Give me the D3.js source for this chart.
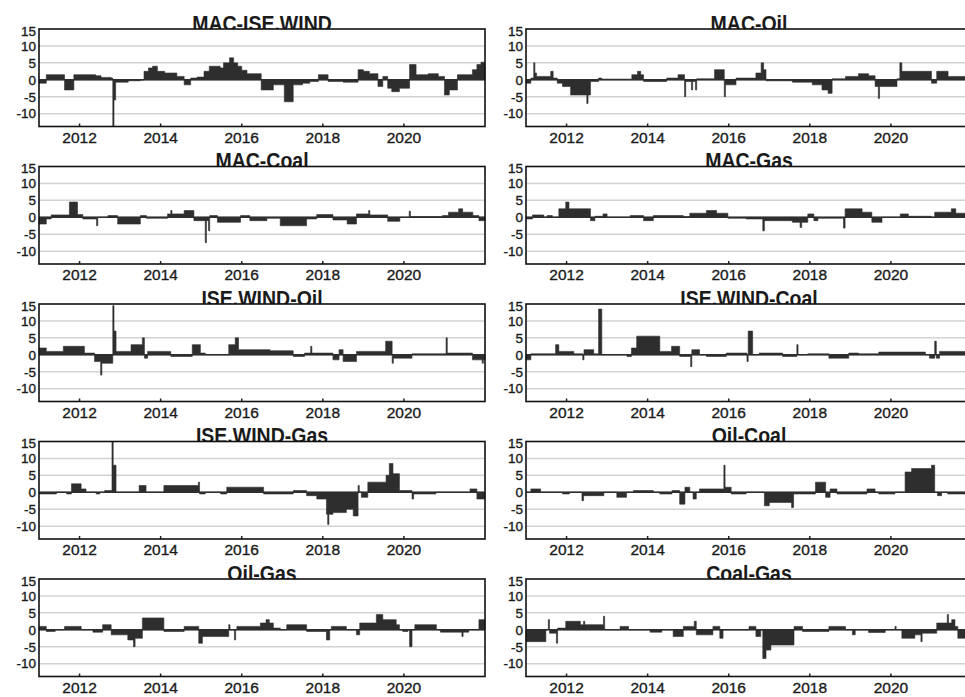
<!DOCTYPE html>
<html>
  <head>
    <meta charset="UTF-8">
    <title>Pairwise spillover</title>
    <style>
      body { margin: 0; background: #fff; }
      text { font-family: "Liberation Sans", Arial, sans-serif; fill: #1a1a1a; }
      text.ylab, text.xlab { stroke: #1a1a1a; stroke-width: 0.35px; }
    </style>
  </head>
  <body>

    <svg class="chart"></svg>

    <script src="https://cdnjs.cloudflare.com/ajax/libs/d3/7.8.5/d3.min.js"></script>
    <script>

/* DATA: [decimal year, value], each value holds until the next entry (step) */

var titles = ["MAC-ISE.WIND", "MAC-Oil", "MAC-Coal", "MAC-Gas", "ISE.WIND-Oil",
              "ISE.WIND-Coal", "ISE.WIND-Gas", "Oil-Coal", "Oil-Gas", "Coal-Gas"];

var yTicks = [15, 10, 5, 0, -5, -10];
var xTicks = [2012, 2014, 2016, 2018, 2020];

var macIseWind = [[2011.0,-1],[2011.18,1.5],[2011.63,-3],[2011.86,1.5],[2012.4,1.2],[2012.53,0.7],[2012.78,0.5],
  [2012.82,-14],[2012.85,-6],[2012.89,-0.7],[2013.2,-0.3],[2013.5,-0.1],[2013.59,2.5],[2013.7,3.5],[2013.8,4],
  [2013.92,2.5],[2014.1,2],[2014.4,1],[2014.58,-1.5],[2014.74,0.5],[2014.9,0.8],[2015.07,2.5],[2015.2,4],
  [2015.47,3.5],[2015.55,5],[2015.7,6.5],[2015.8,5],[2015.9,4],[2016.0,2.8],[2016.13,1.8],[2016.48,-3],
  [2016.78,-1.5],[2017.05,-6.5],[2017.27,-1.5],[2017.5,-1],[2017.68,-0.5],[2017.89,1.5],[2018.13,-0.5],
  [2018.5,-0.7],[2018.87,3],[2019.0,2.5],[2019.15,1.8],[2019.36,-2],[2019.48,1],[2019.6,-2.5],[2019.7,-3.5],
  [2019.89,-2.5],[2020.14,4.5],[2020.3,1.5],[2020.6,1.8],[2020.85,1],[2021.0,-4.5],[2021.12,-3],[2021.32,1.5],
  [2021.69,3],[2021.8,4.5],[2021.9,5.2]];

var macOil = [[2011.0,-1],[2011.12,0.5],[2011.19,5],[2011.22,2],[2011.26,1],[2011.61,2.5],[2011.67,0.5],
  [2011.77,-1],[2011.9,-2],[2012.1,-4.5],[2012.5,-7],[2012.53,-4.5],[2012.59,-0.5],[2012.79,0.5],[2012.87,0.2],
  [2013.61,1.5],[2013.75,2.5],[2013.83,1.5],[2013.9,-0.5],[2014.47,0.5],[2014.75,1.5],[2014.91,-5],[2014.94,-0.5],
  [2015.08,-3],[2015.11,-0.5],[2015.18,-3],[2015.21,0.3],[2015.65,3],[2015.89,-5],[2015.92,-1.5],[2016.18,0.5],
  [2016.67,2],[2016.8,5],[2016.86,3],[2016.92,-0.3],[2017.57,-0.7],[2018.06,-1.5],[2018.3,-3],[2018.45,-4],
  [2018.55,0.3],[2018.88,1],[2019.2,1.8],[2019.45,1.2],[2019.61,-2],[2019.69,-5.5],[2019.72,-2],[2020.15,0.3],
  [2020.22,5],[2020.27,2.5],[2021.0,-1],[2021.13,2.5],[2021.41,1]];

var macCoal = [[2011.0,-2],[2011.18,-0.5],[2011.3,0.7],[2011.75,4.5],[2011.95,0.8],[2012.08,-0.5],[2012.42,-2.5],
  [2012.45,0],[2012.7,0.5],[2012.94,-2],[2013.5,0.5],[2013.65,-0.3],[2014.17,1],[2014.25,2],[2014.28,1],
  [2014.58,2],[2014.82,-1],[2015.1,-7.5],[2015.13,-1],[2015.18,-4],[2015.21,0.5],[2015.4,-1.5],[2015.97,0.5],
  [2016.2,-1],[2016.62,-0.3],[2016.95,-2.5],[2017.6,-0.5],[2017.85,0.8],[2018.25,-0.8],[2018.6,-2],[2018.83,1],
  [2019.13,2],[2019.16,0.7],[2019.6,-1.2],[2019.9,0],[2020.13,1.8],[2020.16,0.2],[2020.95,0.5],[2021.1,1.5],
  [2021.35,2.5],[2021.45,1.5],[2021.7,0.5],[2021.85,-1]];

var macGas = [[2011.0,-0.5],[2011.16,0.7],[2011.44,0],[2011.52,0.5],[2011.65,0],[2011.81,2.5],[2011.98,4.5],
  [2012.06,2.5],[2012.59,-1],[2012.7,0.3],[2012.9,1],[2013.0,0],[2013.57,0.5],[2013.9,-1],[2014.14,0.5],
  [2014.88,0.2],[2015.04,1.2],[2015.45,2],[2015.7,1.2],[2015.98,-0.3],[2016.43,-0.5],[2016.84,-4],[2016.88,-1],
  [2017.57,-1.5],[2017.76,-3],[2017.8,-1.5],[2017.95,1],[2018.1,-1],[2018.2,-0.3],[2018.83,-3.2],[2018.87,2.5],
  [2019.29,1.5],[2019.53,-1.5],[2019.78,0],[2020.23,1],[2020.43,0.3],[2021.0,0],[2021.08,1.5],[2021.49,2.5],
  [2021.6,1.2]];

var iseOil = [[2011.0,2],[2011.18,1],[2011.6,2.5],[2012.12,0.5],[2012.37,-2],[2012.52,-6],[2012.55,-2.5],
  [2012.82,14.5],[2012.85,7],[2012.9,1],[2013.27,3],[2013.55,5],[2013.6,-1],[2013.68,1],[2014.25,-0.5],
  [2014.78,3],[2014.98,0.5],[2015.1,0],[2015.68,3],[2015.84,5],[2015.92,1.5],[2016.7,1.2],[2017.27,-0.5],
  [2017.55,0.5],[2017.7,2.5],[2017.73,0.5],[2018.25,-1.5],[2018.4,1.5],[2018.5,-2],[2018.83,1],[2019.55,4],
  [2019.71,-2.5],[2019.74,-1],[2020.2,0.3],[2021.04,5],[2021.07,0.5],[2021.69,-1.5],[2021.93,-2.5],[2021.96,-1.5]];

var iseCoal = [[2011.0,-1.5],[2011.12,0.3],[2011.73,3],[2011.81,1],[2012.18,0.3],[2012.4,-1.5],[2012.43,1.5],
  [2012.67,0.3],[2012.79,13.5],[2012.87,0],[2013.49,-0.5],[2013.6,2],[2013.73,5.5],[2014.3,1],[2014.59,2.5],
  [2014.79,-0.5],[2015.06,-3.5],[2015.09,1.5],[2015.28,0],[2015.45,-0.5],[2015.94,0.5],[2016.45,-2],[2016.48,7],
  [2016.59,0],[2016.75,0.5],[2017.33,-0.5],[2017.68,3],[2017.71,0],[2017.95,0.3],[2018.47,-1],[2018.96,0.5],
  [2019.2,0.3],[2019.7,0.8],[2020.2,0.8],[2020.85,0],[2020.95,-1],[2021.08,4],[2021.12,-1],[2021.2,1]];

var iseGas = [[2011.0,-0.5],[2011.43,0],[2011.68,-0.5],[2011.8,2.5],[2012.04,1],[2012.16,0],[2012.41,-0.5],
  [2012.5,0],[2012.62,0.5],[2012.8,15],[2012.83,8],[2012.9,0],[2013.47,2],[2013.64,0],[2014.08,2],[2014.93,3],
  [2014.96,-0.5],[2015.1,0],[2015.48,-0.5],[2015.63,1.5],[2016.54,-0.5],[2017.27,0.5],[2017.6,-1],[2017.85,-2],
  [2018.09,-6.5],[2018.12,-9.5],[2018.15,-6.5],[2018.25,-6],[2018.58,-5],[2018.75,-7],[2018.87,2],[2018.9,0],
  [2018.95,-1.5],[2019.11,3],[2019.56,5],[2019.64,8.5],[2019.73,5.5],[2019.89,0.5],[2020.2,-2],[2020.24,-0.5],
  [2020.79,0],[2021.63,1],[2021.8,-2]];

var oilCoal = [[2011.0,0],[2011.12,1],[2011.36,0],[2011.9,-0.5],[2012.07,0],[2012.38,-2.5],[2012.42,-1],
  [2012.92,0],[2013.24,-1.5],[2013.48,0],[2013.65,0.5],[2014.14,0],[2014.3,-0.5],[2014.6,0.5],[2014.79,-3.5],
  [2014.92,1.5],[2015.04,0],[2015.12,-2],[2015.2,0],[2015.28,1],[2015.88,8],[2015.91,1.5],[2016.06,-0.5],
  [2016.43,0],[2016.88,-4],[2017.0,-3],[2017.55,-4.5],[2017.6,-0.5],[2018.14,3],[2018.39,-1.5],[2018.5,1],
  [2018.67,-0.5],[2019.41,1],[2019.61,0],[2019.7,-0.5],[2020.1,0],[2020.35,6],[2020.51,7],[2021.0,8],
  [2021.08,0],[2021.15,-1],[2021.25,0],[2021.4,-0.5]];

var oilGas = [[2011.0,1],[2011.18,-0.5],[2011.4,0],[2011.63,1],[2012.04,0],[2012.33,-0.7],[2012.57,1.5],
  [2012.78,-1.5],[2013.19,-3],[2013.33,-5],[2013.37,-2.5],[2013.55,3.5],[2014.08,-0.5],[2014.58,1],[2014.94,-4],
  [2015.03,-2],[2015.68,1.5],[2015.71,0],[2015.82,-3],[2015.85,0],[2015.88,1],[2016.46,2],[2016.6,3],
  [2016.68,2],[2016.78,0.5],[2016.95,0],[2017.11,1.5],[2017.6,-0.5],[2018.09,-3],[2018.17,0],[2018.21,1],
  [2018.58,0],[2018.83,-1.5],[2018.91,2],[2019.32,4.5],[2019.48,3],[2019.81,1.5],[2019.89,0],[2019.97,-0.5],
  [2020.1,0],[2020.14,-5],[2020.2,0],[2020.27,1.5],[2020.8,0],[2020.9,-0.7],[2021.43,-2],[2021.46,-0.7],
  [2021.6,0],[2021.85,3]];

var coalGas = [[2011.0,-3.5],[2011.49,0],[2011.55,3],[2011.58,-1],[2011.75,-4],[2011.78,0.5],[2011.98,2.5],
  [2012.34,1.5],[2012.42,2.5],[2012.45,1.5],[2012.91,4],[2012.94,0],[2013.32,1],[2013.53,0],[2014.06,-0.7],
  [2014.35,0],[2014.63,-2],[2014.88,1],[2015.15,2.5],[2015.2,-1.5],[2015.61,1],[2015.78,-2.5],[2015.86,0],
  [2016.5,1],[2016.67,-2],[2016.79,0],[2016.84,-8.5],[2016.92,-6],[2017.04,-4.5],[2017.61,1],[2017.82,-0.5],
  [2018.47,1],[2018.88,0],[2019.05,-1.5],[2019.12,0],[2019.45,-0.8],[2019.86,0],[2020.1,1],[2020.13,0],
  [2020.27,-2.5],[2020.59,-1.5],[2020.74,-3.5],[2020.77,-1],[2021.13,2],[2021.39,4.5],[2021.42,2],[2021.5,3],
  [2021.58,1],[2021.65,-2.5]];

var seriesList = [macIseWind, macOil, macCoal, macGas, iseOil, iseCoal, iseGas, oilCoal, oilGas, coalGas];

/* LAYOUT */
var width = 965, height = 697;
var cols = [[39, 485], [526, 972]];
var rowTop = 29, rowStep = 137.5, panelH = 97.5;
var xDomain = [2011.0, 2022.0], yDomain = [-13.8, 15];

var svg = d3.select("svg")
    .attr("width", width)
    .attr("height", height);

titles.forEach(function(title, i) {
  var col = cols[i % 2];
  var top = rowTop + Math.floor(i / 2) * rowStep;
  var bottom = top + panelH;

  var x = d3.scaleLinear().domain(xDomain).range(col);
  var y = d3.scaleLinear().domain(yDomain).range([bottom, top]).clamp(true);

  var data = seriesList[i].slice();
  data.push([xDomain[1], data[data.length - 1][1]]); // close last step

  var g = svg.append("g").attr("class", "panel");

  // title sits behind the box, so its foot gets cut by the frame
  g.append("text")
      .attr("transform", "translate(" + ((col[0] + col[1]) / 2) + "," + (top + 1.5) + ") scale(1,1.15)")
      .attr("text-anchor", "middle")
      .style("font-size", "19.5px")
      .style("font-weight", "bold")
      .text(title);

  g.append("rect")
      .attr("x", col[0]).attr("y", top)
      .attr("width", col[1] - col[0]).attr("height", panelH)
      .attr("fill", "#fff");

  // grid
  g.selectAll("line.grid")
    .data(yTicks.filter(function(t) { return t !== 0 && t !== 15; }))
    .enter().append("line")
      .attr("class", "grid")
      .attr("x1", col[0]).attr("x2", col[1])
      .attr("y1", function(d) { return y(d); })
      .attr("y2", function(d) { return y(d); })
      .attr("stroke", "#d2d2d2")
      .attr("stroke-width", 1.5);

  var area = d3.area()
      .curve(d3.curveStepAfter)
      .x(function(d) { return x(d[0]); })
      .y0(y(0))
      .y1(function(d) { return y(d[1]); });

  g.append("path")
      .datum(data)
      .attr("d", area)
      .attr("fill", "#2e2e2e")
      .attr("stroke", "#2e2e2e")
      .attr("stroke-width", 0.6);

  g.append("line")
      .attr("x1", col[0]).attr("x2", col[1])
      .attr("y1", y(0)).attr("y2", y(0))
      .attr("stroke", "#2e2e2e")
      .attr("stroke-width", 1.5);

  // x ticks point inwards
  g.selectAll("line.xtick")
    .data(xTicks)
    .enter().append("line")
      .attr("class", "xtick")
      .attr("x1", function(d) { return x(d); })
      .attr("x2", function(d) { return x(d); })
      .attr("y1", bottom).attr("y2", bottom - 3)
      .attr("stroke", "#222")
      .attr("stroke-width", 1.5);

  g.append("rect")
      .attr("x", col[0]).attr("y", top)
      .attr("width", col[1] - col[0]).attr("height", panelH)
      .attr("fill", "none")
      .attr("stroke", "#111")
      .attr("stroke-width", 1.6);

  g.selectAll("text.ylab")
    .data(yTicks)
    .enter().append("text")
      .attr("class", "ylab")
      .attr("x", col[0] - 3)
      .attr("y", function(d) { return d === 15 ? y(d) + 2 : y(d); })
      .attr("dy", "0.36em")
      .attr("text-anchor", "end")
      .style("font-size", "13.5px")
      .text(function(d) { return d; });

  g.selectAll("text.xlab")
    .data(xTicks)
    .enter().append("text")
      .attr("class", "xlab")
      .attr("x", function(d) { return x(d); })
      .attr("y", bottom + 16)
      .attr("text-anchor", "middle")
      .style("font-size", "15.5px")
      .text(function(d) { return d; });
});

</script>
  </body>
</html>
